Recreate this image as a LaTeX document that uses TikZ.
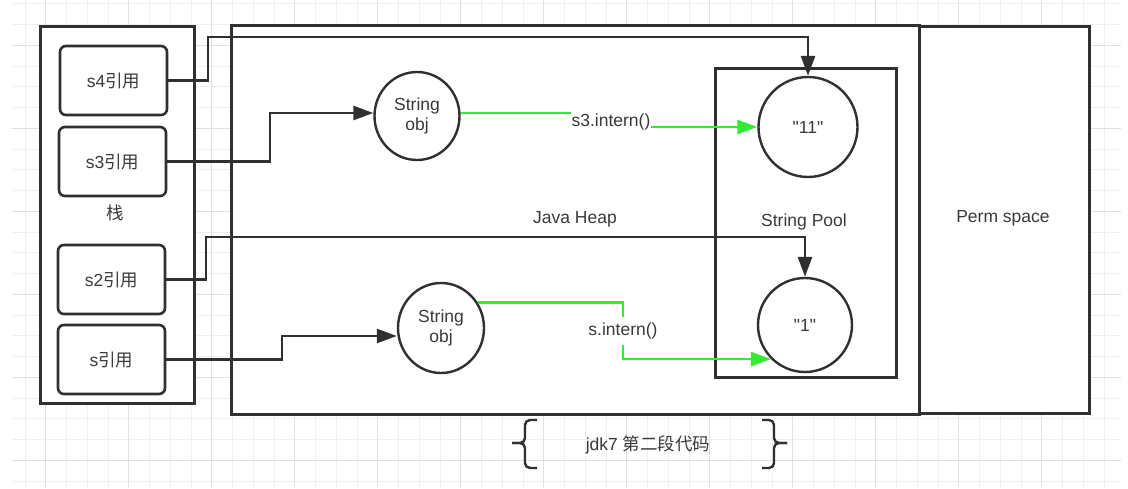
\documentclass[tikz,border=0pt]{standalone}
\usepackage{fontspec}
\setmainfont{Liberation Sans}
\newfontfamily\cjk{Noto Sans CJK SC}
\usetikzlibrary{arrows.meta,shapes.geometric}
\definecolor{lc}{HTML}{303030}
\definecolor{tc}{HTML}{3A3A3A}
\definecolor{gminor}{HTML}{EFEFEF}
\definecolor{gmajor}{HTML}{E0E0E0}
\definecolor{ggreen}{RGB}{50,235,50}
\begin{document}
\begin{tikzpicture}[x=1pt,y=-1pt,
  font=\fontsize{17.5}{20}\selectfont, text=tc,
  frame/.style={draw=lc, line width=2.6pt, fill=white, inner sep=0pt, anchor=north west},
  refbox/.style={draw=lc, line width=2.6pt, fill=white, rounded corners=6pt, inner sep=0pt, minimum width=107pt, minimum height=69pt},
  obj/.style={ellipse, draw=lc, line width=2.4pt, fill=white, inner sep=0pt, align=center},
  darr/.style={draw=lc, line width=2.6pt, -{Triangle[length=20pt,width=14pt]}},
  garr/.style={draw=ggreen, line width=2.6pt, -{Triangle[length=20pt,width=14pt]}},
  brc/.style={draw=lc, line width=2.4pt, rounded corners=5pt},
  lbl/.style={fill=white, inner xsep=1pt}
  ]
\useasboundingbox (0,0) rectangle (1128,488);
\fill[white] (0,0) rectangle (1128,488);
% grid
\foreach \k in {1,...,53} {\draw[gminor, line width=0.9pt] ({4.2+20.75*\k},0) -- ({4.2+20.75*\k},488);}
\foreach \k in {0,...,23} {\draw[gminor, line width=0.9pt] (12,{3.8+20.75*\k}) -- (1121,{3.8+20.75*\k});}
\foreach \k in {2,6,...,50} {\draw[gmajor, line width=0.9pt] ({4.2+20.75*\k},0) -- ({4.2+20.75*\k},488);}
\foreach \k in {2,6,...,22} {\draw[gmajor, line width=0.9pt] (12,{3.8+20.75*\k}) -- (1121,{3.8+20.75*\k});}

% frames
\node[frame, minimum width=154pt, minimum height=377pt] (stack) at (39,25) {};
\node[frame, minimum width=688pt, minimum height=389pt] (heap) at (230,24) {};
\node[frame, minimum width=170pt, minimum height=387pt] (perm) at (918,25) {};
\node[frame, minimum width=181pt, minimum height=309pt] (pool) at (714,67) {};

% references
\node[refbox] (s4) at (113.5,80.5) {s4{\cjk 引用}};
\node[refbox] (s3) at (112.5,161.5) {s3{\cjk 引用}};
\node[refbox] (s2) at (111.5,279.5) {s2{\cjk 引用}};
\node[refbox] (s) at (111.5,359.5) {s{\cjk 引用}};

% objects
\node[obj, minimum width=85pt, minimum height=88pt] (obj1) at (417,116) {String\\obj};
\node[obj, minimum width=86pt, minimum height=90pt] (obj2) at (441,328) {String\\obj};
\node[obj, minimum width=99pt, minimum height=100pt] (c11) at (808,127) {\textquotedbl 11\textquotedbl};
\node[obj, minimum width=94pt, minimum height=94pt] (c1) at (805,325) {\textquotedbl 1\textquotedbl};

% labels
\node (stk) at (115,213) {\cjk 栈};
\node (jh) at (575,219) {Java Heap};
\node (sp) at (804,222) {String Pool};
\node (ps) at (1003,218) {Perm space};
\node (jdk) at (648,445) {jdk7 {\cjk 第二段代码}};

% black connectors
\coordinate (a1) at (208,37);
\draw[darr] (s4.east) -| (a1) -| (c11.north);
\coordinate (a2) at (270,113);
\draw[darr] (s3.east) -| (a2) -- (a2 -| obj1.west);
\coordinate (a3) at (206,237);
\draw[darr] (s2.east) -| (a3) -| (c1.north);
\coordinate (a4) at (282,336);
\draw[darr] (s.east) -| (a4) -- (a4 -| obj2.west);

% green connectors
\coordinate (t1) at (611,113);
\draw[garr] (t1 -| obj1.east) -- (t1) |- (c11.west);
\node[lbl, inner ysep=3pt] (l1) at (611,122) {s3.intern()};
\coordinate (t2) at (623,330);
\draw[garr] (obj2.35) -| (t2) |- (c1.225);
\node[lbl, inner ysep=6pt] (l2) at (623,331) {s.intern()};

% braces
\draw[brc] (537,420) -- (525,420) -- (525,443) -- (512,443);
\draw[brc] (537,468) -- (525,468) -- (525,443) -- (512,443);
\draw[brc] (762,420) -- (774,420) -- (774,443) -- (787,443);
\draw[brc] (762,468) -- (774,468) -- (774,443) -- (787,443);
\end{tikzpicture}
\end{document}
